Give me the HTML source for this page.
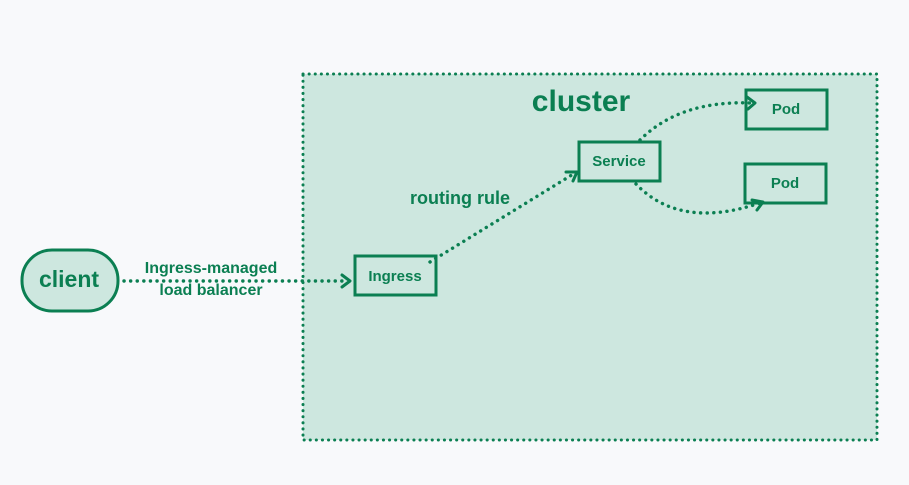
<!DOCTYPE html>
<html><head><style>
html,body{margin:0;padding:0;background:#f8f9fb;}
svg{display:block}
text{font-family:"Liberation Sans",sans-serif;font-weight:bold;fill:#0b7f52}
</style></head><body>
<svg width="909" height="485" viewBox="0 0 909 485">
<rect width="909" height="485" fill="#f8f9fb"/>
<rect x="303" y="74" width="574" height="366" fill="#cde7df" stroke="#0b7f52" stroke-width="3" stroke-dasharray="0.1 6" stroke-linecap="round"/>
<text x="581" y="111" font-size="30" text-anchor="middle">cluster</text>
<rect x="22" y="250" width="96" height="61" rx="30" fill="#cde7df" stroke="#0b7f52" stroke-width="3"/>
<text x="69" y="287" font-size="23" text-anchor="middle">client</text>
<g fill="#cde7df" stroke="#0b7f52" stroke-width="3">
<rect x="355" y="256" width="81" height="39"/>
<rect x="579" y="142" width="81" height="39"/>
<rect x="746" y="90" width="81" height="39"/>
<rect x="745" y="164" width="81" height="39"/>
</g>
<text x="395" y="281" font-size="15" text-anchor="middle">Ingress</text>
<text x="619" y="166" font-size="15" text-anchor="middle">Service</text>
<text x="786" y="114" font-size="15" text-anchor="middle">Pod</text>
<text x="785" y="188" font-size="15" text-anchor="middle">Pod</text>
<text x="211" y="273" font-size="16" text-anchor="middle">Ingress-managed</text>
<text x="211" y="295" font-size="16" text-anchor="middle">load balancer</text>
<text x="460" y="204" font-size="18" text-anchor="middle">routing rule</text>
<g fill="none" stroke="#0b7f52" stroke-width="3.4" stroke-dasharray="0.1 6.5" stroke-linecap="round">
<path d="M124 281 L348 281"/>
<path d="M430 262 L575 173"/>
<path d="M640 140 Q680 100 752 103"/>
<path d="M636 184 Q680 230 760 203"/>
</g>
<g fill="none" stroke="#0b7f52" stroke-width="3" stroke-linecap="round" stroke-linejoin="round">
<path d="M342 275 L350 281 L342 287"/>
<path d="M566 172 L577 172 L573 181"/>
<path d="M747 97 L755 103 L748 109"/>
<path d="M752 200 L763 202 L757 210"/>
</g>
</svg>
</body></html>
